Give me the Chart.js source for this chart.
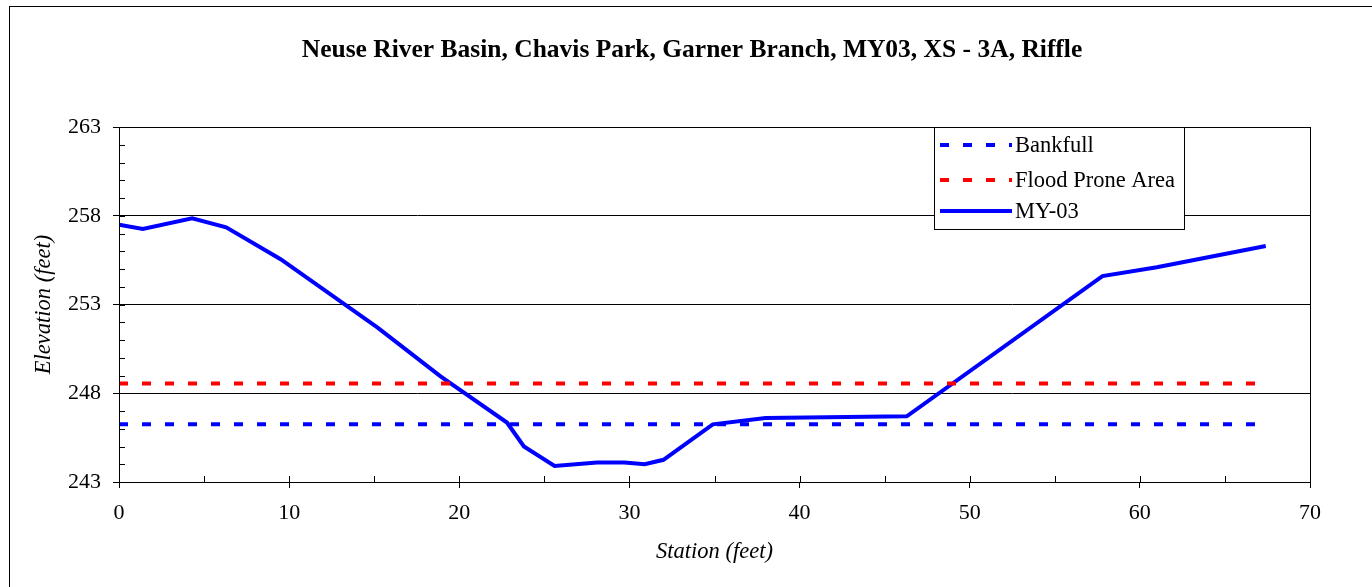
<!DOCTYPE html>
<html>
<head>
<meta charset="utf-8">
<title>Garner Branch XS-3A</title>
<script src="https://cdn.jsdelivr.net/npm/chart.js@4.4.1/dist/chart.umd.min.js"></script>
<style>
    html, body { margin: 0; padding: 0; background: #fff; }
    #wrap { width: 1372px; height: 587px; }
</style>
</head>
<body>
<div id="wrap"><canvas id="xsChart" width="1372" height="587"></canvas></div>
<script>
// surveyed cross-section (station ft, elevation ft)
const station = [0, 1.4, 4.3, 6.3, 9.5, 15.2, 18.9, 22.8, 23.8, 25.6, 28.1, 29.7, 30.9, 32.0, 34.9, 38.0, 46.3, 57.8, 61.0, 67.4];
const elevation = [257.5, 257.25, 257.85, 257.35, 255.55, 251.7, 248.95, 246.35, 245.0, 243.9, 244.1, 244.1, 244.0, 244.25, 246.25, 246.6, 246.7, 254.6, 255.1, 256.3];

// reference elevations drawn across the section
const levelStations = [0, 67];
const bankfullElev = 246.25;
const floodProneElev = 248.55;

const xTicks = [0, 10, 20, 30, 40, 50, 60, 70];
const yTicks = [243, 248, 253, 258, 263];

const chartTitle = 'Neuse River Basin, Chavis Park, Garner Branch, MY03, XS - 3A, Riffle';
const serif = "'Liberation Serif', 'Times New Roman', serif";

const pts = (xs, ys) => xs.map((x, i) => ({ x, y: ys[i] }));

// outer frame, centred title, plot box and inside/minor tick marks
const framePlugin = {
    id: 'frame',
    beforeDraw(chart) {
        const { ctx } = chart;
        ctx.save();
        ctx.fillStyle = '#fff';
        ctx.fillRect(0, 0, chart.width, chart.height);
        ctx.strokeStyle = '#000';
        ctx.lineWidth = 1;
        ctx.strokeRect(9.5, 6.5, chart.width + 10, chart.height + 10);
        ctx.fillStyle = '#000';
        ctx.font = 'bold 25.5px ' + serif;
        ctx.textAlign = 'center';
        ctx.textBaseline = 'alphabetic';
        ctx.fillText(chartTitle, 692, 57);
        ctx.restore();
    },
    afterDraw(chart) {
        const { ctx, chartArea: a, scales: { x, y } } = chart;
        ctx.save();
        ctx.strokeStyle = '#000';
        ctx.lineWidth = 1;
        ctx.strokeRect(Math.round(a.left) + 0.5, Math.round(a.top) + 0.5,
            Math.round(a.right - a.left), Math.round(a.bottom - a.top));
        ctx.beginPath();
        for (let v = 243; v <= 263; v++) {
            const py = Math.round(y.getPixelForValue(v)) + 0.5;
            ctx.moveTo(a.left, py);
            ctx.lineTo(a.left + 6, py);
        }
        for (let v = 0; v <= 70; v += 5) {
            const px = Math.round(x.getPixelForValue(v)) + 0.5;
            ctx.moveTo(px, a.bottom);
            ctx.lineTo(px, a.bottom - 6);
        }
        ctx.stroke();
        ctx.restore();
    }
};

// legend box drawn inside the plot, top right
const boxLegend = {
    id: 'boxLegend',
    afterDraw(chart) {
        const { ctx } = chart;
        const bx = 934, by = 127, bw = 250, bh = 102;
        ctx.save();
        ctx.fillStyle = '#fff';
        ctx.fillRect(bx, by, bw, bh);
        ctx.strokeStyle = '#000';
        ctx.lineWidth = 1;
        ctx.strokeRect(bx + 0.5, by + 0.5, bw, bh);
        ctx.font = '22.5px ' + serif;
        ctx.textBaseline = 'middle';
        ctx.fillStyle = '#000';
        const rowY = [145, 180, 211];
        chart.data.datasets.forEach((ds, i) => {
            ctx.beginPath();
            ctx.strokeStyle = ds.borderColor;
            ctx.lineWidth = ds.borderWidth;
            ctx.setLineDash(ds.borderDash || []);
            ctx.moveTo(940, rowY[i]);
            ctx.lineTo(1012, rowY[i]);
            ctx.stroke();
            ctx.setLineDash([]);
            ctx.fillText(ds.label, 1015, rowY[i] + 1);
        });
        ctx.restore();
    }
};

new Chart(document.getElementById('xsChart'), {
    type: 'line',
    data: {
        datasets: [
            {
                label: 'Bankfull',
                data: pts(levelStations, levelStations.map(() => bankfullElev)),
                borderColor: '#0000ff',
                borderWidth: 4,
                borderDash: [9, 14],
                pointRadius: 0
            },
            {
                label: 'Flood Prone Area',
                data: pts(levelStations, levelStations.map(() => floodProneElev)),
                borderColor: '#ff0000',
                borderWidth: 4,
                borderDash: [9, 14],
                pointRadius: 0
            },
            {
                label: 'MY-03',
                data: pts(station, elevation),
                borderColor: '#0000ff',
                borderWidth: 4,
                pointRadius: 0,
                tension: 0
            }
        ]
    },
    options: {
        responsive: false,
        animation: false,
        devicePixelRatio: 1,
        layout: { padding: { left: 10, right: 62, top: 127, bottom: 0 } },
        plugins: {
            legend: { display: false },
            tooltip: { enabled: false },
            title: { display: false }
        },
        scales: {
            x: {
                type: 'linear',
                min: 0,
                max: 70,
                afterBuildTicks: s => { s.ticks = xTicks.map(value => ({ value })); },
                afterFit: s => { s.height = 105; },
                grid: { display: true, drawOnChartArea: false, color: '#000', tickLength: 6 },
                border: { color: '#000', width: 1 },
                ticks: { color: '#000', font: { family: serif, size: 22 }, padding: 12, maxRotation: 0 },
                title: {
                    display: true,
                    text: 'Station (feet)',
                    color: '#000',
                    font: { family: serif, size: 22.5, style: 'italic' },
                    padding: { top: 0, bottom: 21 }
                }
            },
            y: {
                type: 'linear',
                min: 243,
                max: 263,
                afterBuildTicks: s => { s.ticks = yTicks.map(value => ({ value })); },
                afterFit: s => { s.width = 109; },
                grid: { color: '#000', tickLength: 6 },
                border: { color: '#000', width: 1 },
                ticks: { color: '#000', font: { family: serif, size: 22 }, padding: 12 },
                title: {
                    display: true,
                    text: 'Elevation (feet)',
                    color: '#000',
                    font: { family: serif, size: 22.5, style: 'italic' },
                    padding: { top: 21, bottom: 0 }
                }
            }
        }
    },
    plugins: [framePlugin, boxLegend]
});
</script>
</body>
</html>
